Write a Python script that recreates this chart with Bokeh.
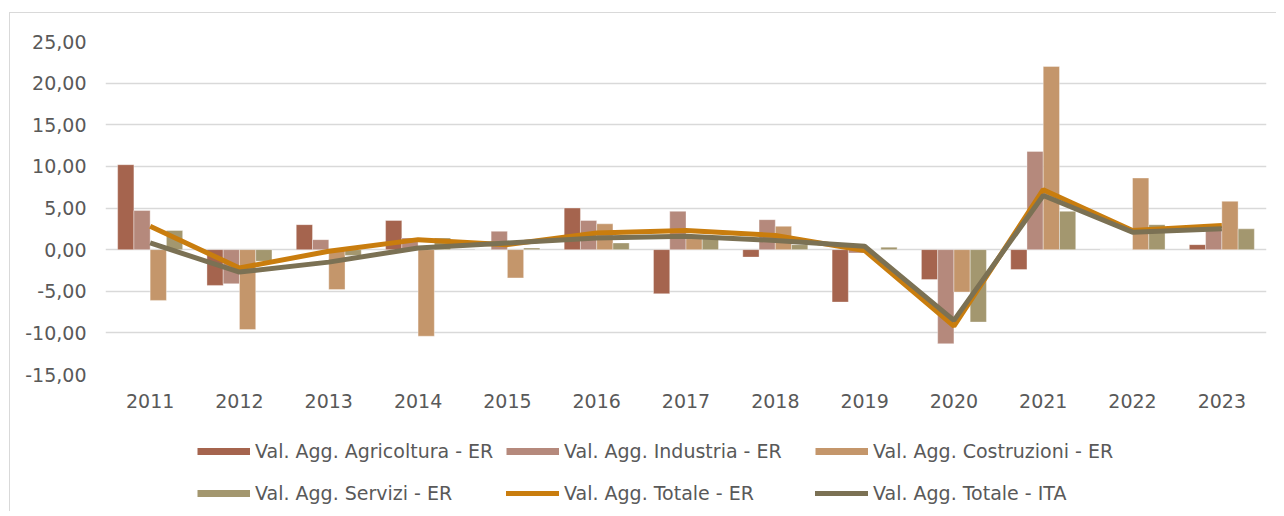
from bokeh.plotting import figure
from bokeh.layouts import column
from bokeh.models import (ColumnDataSource, FactorRange, Legend, LegendItem,
                          CustomJSTickFormatter, FixedTicker, Range1d)
from bokeh.transform import dodge
from bokeh.embed import file_html
from bokeh.resources import INLINE

years = ["2011", "2012", "2013", "2014", "2015", "2016", "2017",
         "2018", "2019", "2020", "2021", "2022", "2023"]
agricoltura = [10.2, -4.3, 3.0, 3.5, 0.0, 5.0, -5.3, -0.9, -6.3, -3.6, -2.4, 0.0, 0.6]
industria = [4.7, -4.1, 1.2, 1.4, 2.2, 3.5, 4.6, 3.6, -0.4, -11.3, 11.8, 0.0, 2.5]
costruzioni = [-6.1, -9.6, -4.8, -10.4, -3.4, 3.1, 1.6, 2.8, 0.0, -5.1, 22.0, 8.6, 5.8]
servizi = [2.3, -1.4, -0.7, 1.4, 0.2, 0.8, 1.4, 0.6, 0.3, -8.7, 4.6, 3.0, 2.5]
totale_er = [2.8, -2.2, -0.2, 1.2, 0.6, 2.0, 2.3, 1.7, -0.1, -9.2, 7.2, 2.3, 2.9]
totale_ita = [0.8, -2.7, -1.5, 0.2, 0.8, 1.4, 1.6, 1.1, 0.4, -8.5, 6.5, 2.1, 2.5]

labels = ["Val. Agg. Agricoltura - ER", "Val. Agg. Industria - ER",
          "Val. Agg. Costruzioni - ER", "Val. Agg. Servizi - ER",
          "Val. Agg. Totale - ER", "Val. Agg. Totale - ITA"]
colors = ["#A5644E", "#B5897C", "#C4966B", "#A3976F", "#C97D0E", "#7B7154"]

src = ColumnDataSource(dict(x=years, agr=agricoltura, ind=industria,
                            cos=costruzioni, ser=servizi,
                            er=totale_er, ita=totale_ita))

FONT = "DejaVu Sans"
TXT = "#595959"

p = figure(x_range=FactorRange(*years), y_range=Range1d(-15, 25),
           width=1266, height=406, output_backend="svg",
           toolbar_location=None, min_border_left=95, min_border_right=10,
           min_border_top=28, min_border_bottom=45)
p.outline_line_color = None
p.background_fill_color = "white"
p.border_fill_color = "white"

bw = 0.182
offs = [-1.5 * bw, -0.5 * bw, 0.5 * bw, 1.5 * bw]
for key, off, c in zip(["agr", "ind", "cos", "ser"], offs, colors[:4]):
    p.vbar(x=dodge("x", off, range=p.x_range), top=key, bottom=0, width=bw,
           source=src, fill_color=c, line_color="white", line_width=0.6,
           line_alpha=0.6)

p.line(x="x", y="er", source=src, line_color=colors[4], line_width=5)
p.line(x="x", y="ita", source=src, line_color=colors[5], line_width=5)

p.yaxis.ticker = FixedTicker(ticks=[-15, -10, -5, 0, 5, 10, 15, 20, 25])
p.yaxis.formatter = CustomJSTickFormatter(code="return tick.toFixed(2).replace('.', ',');")
for ax in (p.xaxis, p.yaxis):
    ax.axis_line_color = None
    ax.major_tick_line_color = None
    ax.minor_tick_line_color = None
    ax.major_tick_out = 0
    ax.major_tick_in = 0
    ax.major_label_text_font = FONT
    ax.major_label_text_font_size = "19px"
    ax.major_label_text_color = TXT
p.yaxis.major_label_standoff = 19
p.xaxis.major_label_standoff = 19

p.xgrid.grid_line_color = None
p.ygrid.grid_line_color = "#d9d9d9"
p.ygrid.grid_line_width = 1.5

# legend figure (frame aligned with the main figure by the column layout)
lf = figure(width=1266, height=92, output_backend="svg", toolbar_location=None,
            x_axis_type=None, y_axis_type=None, min_border=0,
            x_range=Range1d(0, 1), y_range=Range1d(0, 1))
lf.outline_line_color = None
lf.grid.grid_line_color = None
lf.background_fill_color = "white"
lf.border_fill_color = "white"

# proxy renderers for the legend, placed outside the visible range
hidden_x = [-10, -9]
hidden_y = [-10, -10]
proxies = []
for i, c in enumerate(colors):
    if i < 4:
        r = lf.line(x=hidden_x, y=hidden_y, line_color=c, line_width=7, line_cap="butt")
    else:
        r = lf.line(x=hidden_x, y=hidden_y, line_color=c, line_width=5, line_cap="round")
    proxies.append(r)

items = [LegendItem(label=l, renderers=[r]) for l, r in zip(labels, proxies)]
legend = Legend(items=items, ncols=3, location=(92, 0),
                orientation="horizontal", padding=0, margin=0, spacing=6,
                glyph_width=53, glyph_height=36, label_height=36, label_width=245,
                label_standoff=5, border_line_color=None,
                background_fill_alpha=0,
                label_text_font=FONT, label_text_font_size="19px",
                label_text_color=TXT)
lf.add_layout(legend, "center")

layout = column(p, lf, spacing=0)
layout.styles = {"margin-top": "12px", "margin-left": "9px",
                 "border-top": "1px solid #d9d9d9", "border-left": "1px solid #d9d9d9"}

open("out.html", "w").write(file_html(layout, INLINE))
